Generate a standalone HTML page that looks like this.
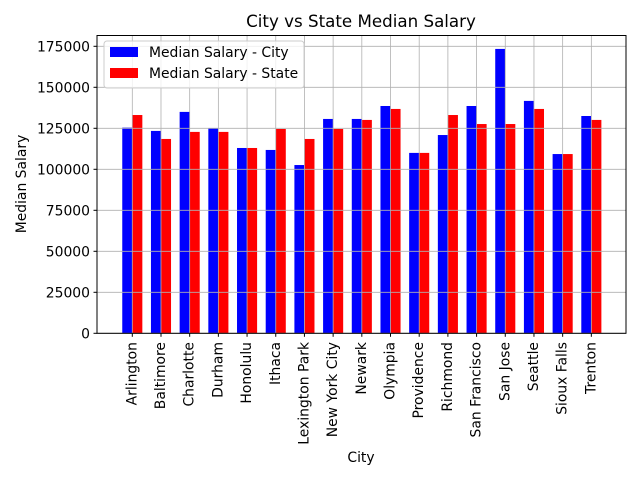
<!DOCTYPE html>
<html><head><meta charset="utf-8"><style>
body{margin:0;background:#fff}
svg{display:block;font-family:"DejaVu Sans","Liberation Sans",sans-serif}
</style></head><body>
<svg id="chart" width="640" height="480" xmlns="http://www.w3.org/2000/svg">
<rect width="640" height="480" fill="#fff"/>
<text x="361" y="27" font-size="16.7" text-anchor="middle">City vs State Median Salary</text>
<g id="bars"></g>
<g id="grid"></g>
<rect x="97" y="35.5" width="529" height="297.8" fill="none" stroke="#000" stroke-width="1"/>
<g id="ticks"></g>
<text x="361" y="462" font-size="13.9" text-anchor="middle">City</text>
<text transform="translate(26,184) rotate(-90)" font-size="13.9" text-anchor="middle">Median Salary</text>
<g>
<rect x="104" y="41" width="200" height="47" rx="3" fill="#fff" fill-opacity="0.8" stroke="#ccc"/>
<rect x="110" y="47" width="28" height="10" fill="#0000ff"/>
<text x="149" y="57" font-size="13.9">Median Salary - City</text>
<rect x="110" y="68" width="28" height="10" fill="#ff0000"/>
<text x="149" y="78" font-size="13.9">Median Salary - State</text>
</g>
</svg>
<script>
const cities = ["Arlington","Baltimore","Charlotte","Durham","Honolulu","Ithaca","Lexington Park","New York City","Newark","Olympia","Providence","Richmond","San Francisco","San Jose","Seattle","Sioux Falls","Trenton"];
const citySalary = [125400,123400,135000,125200,113000,111800,102600,130700,130700,138600,110000,120900,138600,173400,141700,109300,132500];
const stateSalary = [133100,118500,122800,122800,113000,124600,118500,124600,130100,136800,110000,133100,127600,127600,136800,109300,130100];
const yTicks = [0,25000,50000,75000,100000,125000,150000,175000];

const NS = "http://www.w3.org/2000/svg";
const x0 = 132.3, step = 28.69, bw = 0.35;
function xs(i){ return x0 + i*step; }
function ys(v){ return 333.3 - v*(41/25000); }
function mk(tag, attrs, parent){ const e=document.createElementNS(NS,tag); for(const k in attrs) e.setAttribute(k,attrs[k]); parent.appendChild(e); return e; }
const grid=document.getElementById('grid'), bars=document.getElementById('bars'), ticks=document.getElementById('ticks');

yTicks.forEach(t=>{
  const y=ys(t);
  const g=mk('line',{x1:97,x2:626,y1:y,y2:y,stroke:'#b0b0b0','stroke-width':0.8},grid);
  
  
  mk('line',{x1:93.5,x2:97,y1:y,y2:y,stroke:'#000'},ticks);
  const l=mk('text',{x:90,y:y+5,'font-size':13.9,'text-anchor':'end'},ticks);
  l.textContent=String(t);
  
  
});
cities.forEach((c,i)=>{
  const x=xs(i);
  const g=mk('line',{x1:x,x2:x,y1:35.5,y2:333.3,stroke:'#b0b0b0','stroke-width':0.8},grid);
  
  
  const b1=mk('rect',{x:x-bw*step,y:ys(citySalary[i]),width:bw*step,height:ys(0)-ys(citySalary[i]),fill:'#0000ff'},bars);
  
  
  const b2=mk('rect',{x:x,y:ys(stateSalary[i]),width:bw*step,height:ys(0)-ys(stateSalary[i]),fill:'#ff0000'},bars);
  
  
  mk('line',{x1:x,x2:x,y1:333.3,y2:336.8,stroke:'#000'},ticks);
  const l=mk('text',{x:x,y:342,'font-size':13.9,'text-anchor':'end','dominant-baseline':'central',transform:`rotate(-90 ${x} 342)`},ticks);
  l.textContent=c;
  
  
});
</script>
</body></html>
